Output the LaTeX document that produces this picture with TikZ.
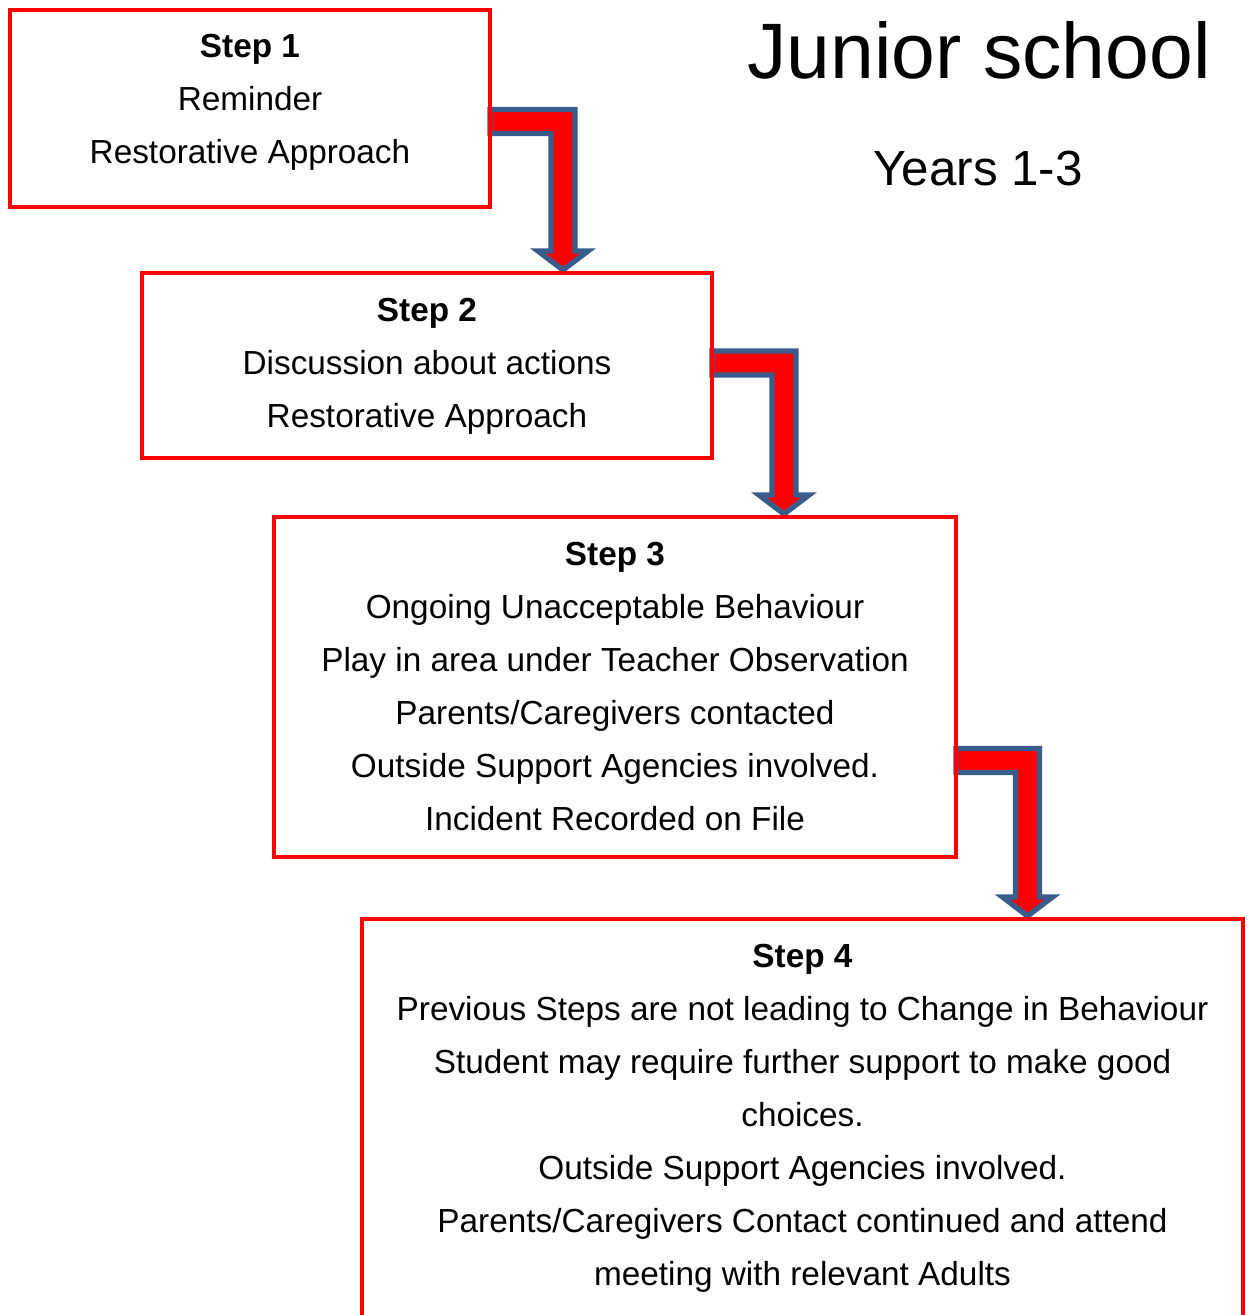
\documentclass[tikz,border=0pt]{standalone}
\usepackage{fontspec}
\setmainfont{Liberation Sans}
\usetikzlibrary{calc,backgrounds}
\definecolor{boxred}{RGB}{255,0,0}
\definecolor{arrowblue}{RGB}{56,93,138}
\tikzset{
  stepbox/.style={draw=boxred, line width=3pt, rectangle, inner sep=0pt, outer sep=0pt},
  steptext/.style={anchor=north, align=center, inner sep=0pt, font=\fontsize{25}{39.75}\selectfont},
  bentarrow/.style={fill=boxred, draw=arrowblue, line width=4pt, line join=miter}
}
\newcommand{\stepArrow}[3]{%
  \draw[bentarrow] ($(#1.east|-#2)+(0,-12)$) -- ($(#2)+(12,-12)$)
    -- ($(#2|-#3.north)+(12,-22)$) -- ($(#2|-#3.north)+(25,-22)$)
    -- ($(#2|-#3.north)+(0,-3)$) -- ($(#2|-#3.north)+(-25,-22)$)
    -- ($(#2|-#3.north)+(-12,-22)$) -- ($(#2)+(-12,12)$)
    -- ($(#1.east|-#2)+(0,12)$) -- cycle;}
\begin{document}
\begin{tikzpicture}[x=0.75pt, y=-0.75pt]
        \clip (0,0) rectangle (1248,1315);
        \node[stepbox, minimum width=360pt, minimum height=147.75pt] (s1) at (250,108.5) {};
        \node[stepbox, minimum width=427.5pt, minimum height=138.75pt] (s2) at (427,365.5) {};
        \node[stepbox, minimum width=511.5pt, minimum height=255pt] (s3) at (615,687) {};
        \node[stepbox, minimum width=660.75pt, minimum height=330pt] (s4) at (802.5,1139) {};
        \node[steptext] (t1) at ($(s1.north)+(0,24)$) {\textbf{Step 1}\\Reminder\\Restorative Approach};
        \node[steptext] (t2) at ($(s2.north)+(0,25)$) {\textbf{Step 2}\\Discussion about actions\\Restorative Approach};
        \node[steptext] (t3) at ($(s3.north)+(0,25)$) {\textbf{Step 3}\\Ongoing Unacceptable Behaviour\\Play in area under Teacher Observation\\Parents/Caregivers contacted\\Outside Support Agencies involved.\\Incident Recorded on File};
        \node[steptext] (t4) at ($(s4.north)+(0,25)$) {\textbf{Step 4}\\Previous Steps are not leading to Change in Behaviour\\Student may require further support to make good\\choices.\\Outside Support Agencies involved.\\Parents/Caregivers Contact continued and attend\\meeting with relevant Adults};
        \coordinate (c1) at (563,121.5);
        \coordinate (c2) at (784,363);
        \coordinate (c3) at (1027.5,760.5);
        \begin{scope}[on background layer]
        \stepArrow{s1}{c1}{s2}
        \stepArrow{s2}{c2}{s3}
        \stepArrow{s3}{c3}{s4}
        \end{scope}
        \node[font=\fontsize{59}{70}\selectfont, anchor=base] (title) at (979,78) {Junior school};
        \node[font=\fontsize{37}{44}\selectfont, anchor=base] (years) at (978,185) {Years 1-3};
\end{tikzpicture}
\end{document}
